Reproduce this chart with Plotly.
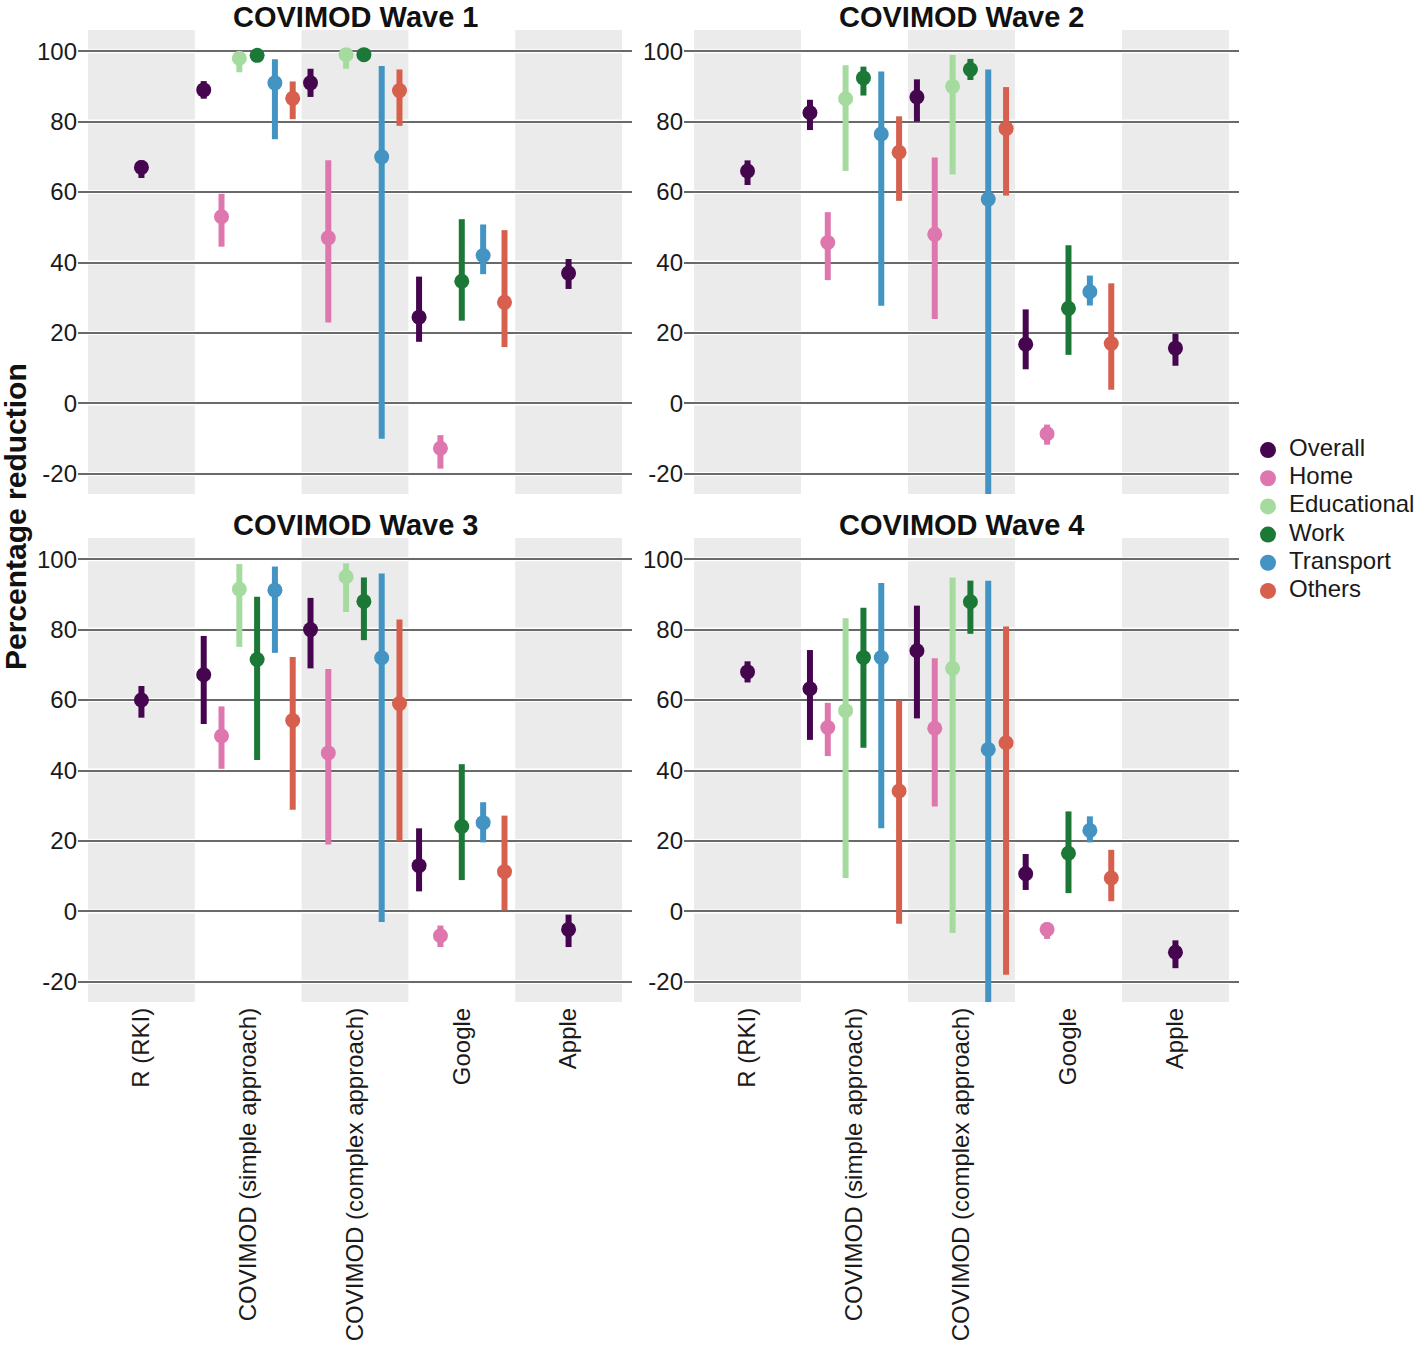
import plotly.graph_objects as go
from plotly.subplots import make_subplots

categories = ['R (RKI)', 'COVIMOD (simple approach)', 'COVIMOD (complex approach)', 'Google', 'Apple']
groups = ['Overall', 'Home', 'Educational', 'Work', 'Transport', 'Others']
colors = {'Overall': '#45054F', 'Home': '#DE77AE', 'Educational': '#A6DBA0',
          'Work': '#1B7837', 'Transport': '#4393C3', 'Others': '#D6604D'}
titles = ['COVIMOD Wave 1', 'COVIMOD Wave 2', 'COVIMOD Wave 3', 'COVIMOD Wave 4']
yticks = [-20, 0, 20, 40, 60, 80, 100]

# estimates and intervals per wave, one list per group over the 5 categories
wave1_est = {'Overall': [67, 89, 91, 24.5, 37], 'Home': [None, 53, 47, -12.7, None],
             'Educational': [None, 98, 99, None, None], 'Work': [None, 98.8, 99, 34.7, None],
             'Transport': [None, 91, 70, 42, None], 'Others': [None, 86.6, 88.8, 28.7, None]}
wave1_lo = {'Overall': [64, 86.5, 87, 17.5, 32.5], 'Home': [None, 44.5, 23, -18.5, None],
            'Educational': [None, 94, 95, None, None], 'Work': [None, 98, 98.3, 23.5, None],
            'Transport': [None, 75, -10, 36.7, None], 'Others': [None, 80.7, 78.8, 16, None]}
wave1_hi = {'Overall': [69, 91.5, 95, 36, 41], 'Home': [None, 59.5, 69, -9, None],
            'Educational': [None, 99.5, 100, None, None], 'Work': [None, 99.5, 99.6, 52.3, None],
            'Transport': [None, 97.7, 95.8, 50.8, None], 'Others': [None, 91.4, 94.8, 49.2, None]}

wave2_est = {'Overall': [66, 82.5, 87, 16.8, 15.7], 'Home': [None, 45.7, 48, -8.6, None],
             'Educational': [None, 86.5, 90, None, None], 'Work': [None, 92.4, 94.8, 27, None],
             'Transport': [None, 76.5, 58, 31.7, None], 'Others': [None, 71.3, 78, 17, None]}
wave2_lo = {'Overall': [62, 77.6, 80, 9.7, 10.7], 'Home': [None, 35, 24, -11.7, None],
            'Educational': [None, 66, 65, None, None], 'Work': [None, 87.4, 91.8, 13.8, None],
            'Transport': [None, 27.7, -30, 27.8, None], 'Others': [None, 57.5, 59, 3.9, None]}
wave2_hi = {'Overall': [69, 86.2, 92, 26.7, 19.8], 'Home': [None, 54.3, 69.8, -6, None],
            'Educational': [None, 96, 98.9, None, None], 'Work': [None, 95.6, 97.8, 44.9, None],
            'Transport': [None, 94.2, 94.8, 36.3, None], 'Others': [None, 81.5, 89.8, 34.1, None]}

wave3_est = {'Overall': [60, 67.2, 80, 13, -5.1], 'Home': [None, 49.8, 45, -6.9, None],
             'Educational': [None, 91.5, 95, None, None], 'Work': [None, 71.5, 88, 24.1, None],
             'Transport': [None, 91.2, 72, 25.2, None], 'Others': [None, 54.2, 59, 11.3, None]}
wave3_lo = {'Overall': [55, 53.2, 69, 5.7, -10.1], 'Home': [None, 40.5, 19, -10.1, None],
            'Educational': [None, 75.1, 85, None, None], 'Work': [None, 43, 77, 8.9, None],
            'Transport': [None, 73.4, -3, 19.6, None], 'Others': [None, 28.9, 20, 0.3, None]}
wave3_hi = {'Overall': [64, 78.2, 89, 23.6, -0.9], 'Home': [None, 58.2, 68.8, -4, None],
            'Educational': [None, 98.6, 98.8, None, None], 'Work': [None, 89.3, 94.8, 41.8, None],
            'Transport': [None, 97.9, 95.9, 31, None], 'Others': [None, 72.2, 82.9, 27.2, None]}

wave4_est = {'Overall': [68, 63.2, 74, 10.7, -11.6], 'Home': [None, 52.2, 52, -5.1, None],
             'Educational': [None, 57, 69, None, None], 'Work': [None, 72.1, 87.9, 16.5, None],
             'Transport': [None, 72.1, 46, 23, None], 'Others': [None, 34.2, 47.9, 9.5, None]}
wave4_lo = {'Overall': [65, 48.7, 54.8, 6.1, -16.1], 'Home': [None, 44.1, 29.8, -7.8, None],
            'Educational': [None, 9.5, -6.1, None, None], 'Work': [None, 46.5, 78.8, 5.2, None],
            'Transport': [None, 23.6, -30, 19.6, None], 'Others': [None, -3.5, -18, 2.9, None]}
wave4_hi = {'Overall': [71, 74.2, 86.8, 16.3, -8.2], 'Home': [None, 59.2, 71.9, -3.1, None],
            'Educational': [None, 83.2, 94.8, None, None], 'Work': [None, 86.2, 93.9, 28.4, None],
            'Transport': [None, 93.2, 93.9, 27, None], 'Others': [None, 59.9, 80.9, 17.5, None]}

waves = [(wave1_est, wave1_lo, wave1_hi), (wave2_est, wave2_lo, wave2_hi),
         (wave3_est, wave3_lo, wave3_hi), (wave4_est, wave4_lo, wave4_hi)]
cells = [(1, 1), (1, 2), (2, 1), (2, 2)]

FONT = 'Liberation Sans, Arial, sans-serif'
W, H = 1418, 1352


def px(x):
    return x / W


def py(y):
    return 1 - y / H


fig = make_subplots(rows=2, cols=2)

for w, (est, lo, hi) in enumerate(waves):
    row, col = cells[w]
    # dodge: spread the groups present in each category across its width
    for g in groups:
        xs, ys, up, dn = [], [], [], []
        for j in range(len(categories)):
            present = [q for q in groups if est[q][j] is not None]
            if est[g][j] is None:
                continue
            n = len(present)
            k = present.index(g)
            xs.append(j + 1 + (k - (n - 1) / 2) / n)
            ys.append(est[g][j])
            up.append(hi[g][j] - est[g][j])
            dn.append(est[g][j] - lo[g][j])
        fig.add_trace(go.Scatter(x=xs, y=ys, mode='markers', name=g, showlegend=False,
                                 marker=dict(color=colors[g], size=15),
                                 error_y=dict(type='data', symmetric=False, array=up,
                                              arrayminus=dn, color=colors[g],
                                              thickness=6, width=0)),
                      row=row, col=col)
    for c in (1, 3, 5):
        fig.add_vrect(x0=c - 0.5, x1=c + 0.5, fillcolor='#EBEBEB', line_width=0,
                      layer='below', row=row, col=col)
    for v in yticks:
        fig.add_hline(y=v, line_color='white', line_width=4, layer='below', row=row, col=col)

# panel placement in pixels -> paper fractions
xdom = [[px(78), px(632)], [px(684), px(1239)]]
ydom = [[py(494), py(30)], [py(1002), py(538)]]

for w in range(4):
    row, col = cells[w]
    sfx = '' if w == 0 else str(w + 1)
    fig.layout['xaxis' + sfx].update(domain=xdom[col - 1], range=[0.406, 5.594],
                                     tickvals=[1, 2, 3, 4, 5], ticktext=categories,
                                     showticklabels=(row == 2), tickangle=-90,
                                     showgrid=False, zeroline=False, showline=False,
                                     tickfont=dict(size=24, color='#1a1a1a', family=FONT))
    fig.layout['yaxis' + sfx].update(domain=ydom[row - 1], range=[-25.7, 106],
                                     tickvals=yticks, ticktext=[str(v) for v in yticks],
                                     showgrid=True, gridcolor='#6a6a6a', gridwidth=1.6,
                                     zeroline=False, showline=False,
                                     tickfont=dict(size=24, color='#1a1a1a', family=FONT))
    x_mid = (xdom[col - 1][0] + xdom[col - 1][1]) / 2
    fig.add_annotation(text='<b>' + titles[w] + '</b>', x=x_mid,
                       y=ydom[row - 1][1] + 13 / H,
                       xref='paper', yref='paper', showarrow=False, xanchor='center',
                       yanchor='middle', font=dict(size=29, color='#111111', family=FONT))

fig.add_annotation(text='<b>Percentage reduction</b>', x=px(15), y=py(517),
                   xref='paper', yref='paper', showarrow=False, textangle=-90,
                   xanchor='center', yanchor='middle',
                   font=dict(size=30, color='#111111', family=FONT))

# legend drawn on its own small axis (pixel units across, one row per group)
leg_idx = list(range(len(groups)))
fig.add_trace(go.Scatter(x=[10] * len(groups), y=leg_idx, mode='markers',
                         marker=dict(color=[colors[g] for g in groups], size=16),
                         xaxis='x5', yaxis='y5', showlegend=False, hoverinfo='skip'))
fig.add_trace(go.Scatter(x=[31] * len(groups), y=leg_idx, mode='text', text=groups,
                         textposition='middle right',
                         textfont=dict(size=24, color='#1a1a1a', family=FONT),
                         xaxis='x5', yaxis='y5', showlegend=False, hoverinfo='skip'))

fig.update_layout(width=W, height=H, autosize=False,
                  margin=dict(l=0, r=0, t=0, b=0),
                  paper_bgcolor='white', plot_bgcolor='white',
                  font=dict(family=FONT, color='#1a1a1a'),
                  showlegend=False,
                  xaxis5=dict(domain=[px(1258), 1.0], range=[0, 160], visible=False,
                              fixedrange=True),
                  yaxis5=dict(domain=[py(605), py(436)], range=[5.5, -0.5], visible=False,
                              fixedrange=True))

# drop the default 8px page margin so the figure sits at the window's corner
fig.write_html("out.html", config={'displayModeBar': False},
               post_script="document.body.style.margin='0px';")
